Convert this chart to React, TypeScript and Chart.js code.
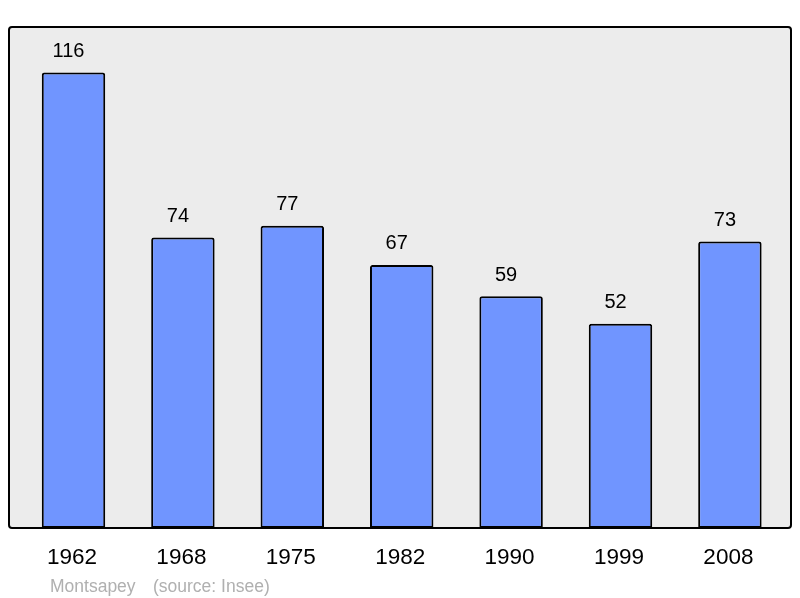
import React, { useEffect, useRef } from "react";
import { Chart, registerables } from "chart.js";

Chart.register(...registerables);

const years = ["1962", "1968", "1975", "1982", "1990", "1999", "2008"];
const population = [116, 74, 77, 67, 59, 52, 73];
const townName = "Montsapey";
const sourceText = "(source: Insee)";

const FONT = '"Liberation Sans", Arial, sans-serif';

const framePlugin = {
  id: "frame",
  beforeDatasetsDraw(chart: any) {
    const { ctx, chartArea } = chart;
    const l = chartArea.left - 9.8;
    const r = chartArea.right + 6.4;
    const t = chartArea.top;
    const b = chartArea.bottom;
    ctx.save();
    ctx.beginPath();
    ctx.roundRect(l, t, r - l, b - t, 3);
    ctx.fillStyle = "#ececec";
    ctx.fill();
    ctx.restore();
  },
  afterDatasetsDraw(chart: any) {
    const { ctx, chartArea } = chart;
    const l = chartArea.left - 9.8;
    const r = chartArea.right + 6.4;
    const t = chartArea.top;
    const b = chartArea.bottom;
    ctx.save();
    ctx.beginPath();
    ctx.roundRect(l, t, r - l, b - t, 3);
    ctx.strokeStyle = "#000";
    ctx.lineWidth = 2;
    ctx.stroke();

    // value labels
    const meta = chart.getDatasetMeta(0);
    ctx.fillStyle = "#000";
    ctx.font = `20px ${FONT}`;
    ctx.textAlign = "center";
    ctx.textBaseline = "alphabetic";
    meta.data.forEach((bar: any, i: number) => {
      ctx.fillText(String(population[i]), bar.x - 5, bar.y - 15.5);
    });

    // category labels
    const xs = chart.scales.x;
    ctx.font = `22.5px ${FONT}`;
    years.forEach((y, i) => {
      ctx.fillText(y, xs.getPixelForValue(i) - 1.5, b + 36.3);
    });

    // footer
    ctx.fillStyle = "#b0b0b0";
    ctx.font = `17.5px ${FONT}`;
    ctx.textAlign = "left";
    ctx.fillText(townName, l + 41, b + 63.7);
    ctx.fillText(sourceText, l + 144, b + 63.7);
    ctx.restore();
  },
};

export default function App() {
  const ref = useRef<HTMLCanvasElement>(null);
  useEffect(() => {
    document.body.style.margin = "0";
    const chart = new Chart(ref.current!, {
      type: "bar",
      data: {
        labels: years,
        datasets: [
          {
            data: population,
            backgroundColor: "#7095ff",
            borderColor: "#000",
            borderWidth: 2,
            borderRadius: { topLeft: 2.5, topRight: 2.5, bottomLeft: 0, bottomRight: 0 },
            borderSkipped: false,
            barPercentage: 0.58,
            categoryPercentage: 1,
          },
        ],
      },
      options: {
        animation: false,
        responsive: false,
        maintainAspectRatio: false,
        layout: { padding: { left: 18.8, right: 15.4, top: 27, bottom: 70 } },
        plugins: { legend: { display: false }, tooltip: { enabled: false } },
        scales: {
          x: { display: false },
          y: { display: false, min: 0, max: 127.6 },
        },
      },
      plugins: [framePlugin],
    });
    return () => chart.destroy();
  }, []);
  return (
    <div style={{ width: 800, height: 598, background: "#fff" }}>
      <canvas ref={ref} width={800} height={598} style={{ display: "block" }} />
    </div>
  );
}
